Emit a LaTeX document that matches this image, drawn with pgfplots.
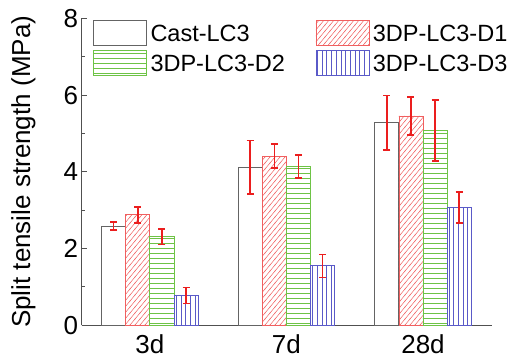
\documentclass[border=0pt]{standalone}
\usepackage{fontspec}
\setmainfont{Liberation Sans}
\usepackage{pgfplots}
\usepackage{pgfplotstable}
\pgfplotsset{compat=1.18}
\usetikzlibrary{patterns}
\definecolor{cgray}{RGB}{100,100,100}
\definecolor{cred}{RGB}{240,95,95}
\definecolor{cgreen}{RGB}{110,195,70}
\definecolor{cblue}{RGB}{90,90,200}
\definecolor{ebred}{RGB}{235,30,30}
\definecolor{axgray}{RGB}{80,80,80}
\pgfdeclarepatterninherentlycolored{hatchred}{\pgfpoint{-1pt}{-1pt}}{\pgfpoint{6pt}{7pt}}{\pgfpoint{5pt}{6pt}}{%
  \pgfsetcolor{cred}\pgfsetlinewidth{0.5pt}%
  \pgfpathmoveto{\pgfpoint{-0.5pt}{-0.6pt}}\pgfpathlineto{\pgfpoint{5.5pt}{6.6pt}}\pgfusepath{stroke}}
\pgfdeclarepatterninherentlycolored{hatchgreen}{\pgfpoint{-1pt}{-1pt}}{\pgfpoint{6pt}{6pt}}{\pgfpoint{5pt}{5pt}}{%
  \pgfsetcolor{cgreen}\pgfsetlinewidth{0.5pt}%
  \pgfpathmoveto{\pgfpoint{-1pt}{2.5pt}}\pgfpathlineto{\pgfpoint{6pt}{2.5pt}}\pgfusepath{stroke}}
\pgfdeclarepatterninherentlycolored{hatchblue}{\pgfpoint{-1pt}{-1pt}}{\pgfpoint{5.7pt}{5.7pt}}{\pgfpoint{4.7pt}{4.7pt}}{%
  \pgfsetcolor{cblue}\pgfsetlinewidth{0.5pt}%
  \pgfpathmoveto{\pgfpoint{2.35pt}{-1pt}}\pgfpathlineto{\pgfpoint{2.35pt}{5.7pt}}\pgfusepath{stroke}}
\pgfplotstableread{
x y e
0 2.59 0.10
1 4.12 0.70
2 5.28 0.71
}\castdata
\pgfplotstableread{
x y e
0 2.88 0.21
1 4.41 0.31
2 5.46 0.50
}\donedata
\pgfplotstableread{
x y e
0 2.31 0.20
1 4.14 0.30
2 5.08 0.80
}\dtwodata
\pgfplotstableread{
x y e
0 0.78 0.21
1 1.55 0.30
2 3.07 0.40
}\dthreedata
\begin{document}
\begin{tikzpicture}
\path (-81.7pt,-35.7pt) rectangle (446.3pt,325.3pt);
\begin{axis}[
  at={(0pt,0pt)}, anchor=south west,
  scale only axis, width=410pt, height=306.8pt,
  xmin=-0.499, xmax=2.503, ymin=0, ymax=8,
  axis x line*=bottom, axis y line*=left,
  axis line style={axgray, line width=0.9pt, -},
  xtick={0,1,2}, xticklabels={3d,7d,28d},
  ytick={0,2,4,6,8}, minor ytick={1,3,5,7},
  tick align=inside, major tick length=5pt, minor tick length=3pt,
  tick style={axgray, line width=0.9pt},
  major x tick style={draw=none},
  /pgf/number format/assume math mode=true,
  tick label style={font=\fontsize{26}{30}\selectfont},
  xticklabel style={inner sep=0pt, anchor=north, yshift=-9pt},
  ylabel={Split tensile strength (MPa)},
  ylabel style={font=\fontsize{26}{30}\selectfont, at={(axis description cs:-0.1122,0.5)}, anchor=south, inner sep=0pt},
  legend columns=2,
  legend style={at={(axis description cs:0.0276,1)}, anchor=north west, yshift=-1.5pt, draw=none, fill=none,
    font=\fontsize{23.5}{27}\selectfont, inner sep=0pt, row sep=4pt,
    nodes={inner xsep=3.5pt, inner ysep=0pt},
    /tikz/every even column/.append style={column sep=27pt}},
  legend cell align=left,
  legend image code/.code={\draw[#1] (0pt,-11.5pt) rectangle (53pt,13.5pt);},
  error bars/y dir=both, error bars/y explicit,
  error bars/error bar style={ebred, line width=1.6pt},
  error bars/error mark options={ebred, line width=1.6pt, mark size=3.5pt, rotate=90},
]
\addplot[ybar, bar width=0.1766, bar shift=0pt, draw=cgray, fill=white, line width=0.8pt]
  table[x expr=\thisrow{x}-0.265, y=y, y error=e]{\castdata};
\addplot[ybar, bar width=0.1766, bar shift=0pt, draw=cred, line width=0.8pt, pattern=hatchred]
  table[x expr=\thisrow{x}-0.088, y=y, y error=e]{\donedata};
\addplot[ybar, bar width=0.1766, bar shift=0pt, draw=cgreen, line width=0.8pt, pattern=hatchgreen]
  table[x expr=\thisrow{x}+0.088, y=y, y error=e]{\dtwodata};
\addplot[ybar, bar width=0.1766, bar shift=0pt, draw=cblue, line width=0.8pt, pattern=hatchblue]
  table[x expr=\thisrow{x}+0.265, y=y, y error=e]{\dthreedata};
\legend{Cast-LC3,3DP-LC3-D1,3DP-LC3-D2,3DP-LC3-D3}
\end{axis}
\end{tikzpicture}
\end{document}
